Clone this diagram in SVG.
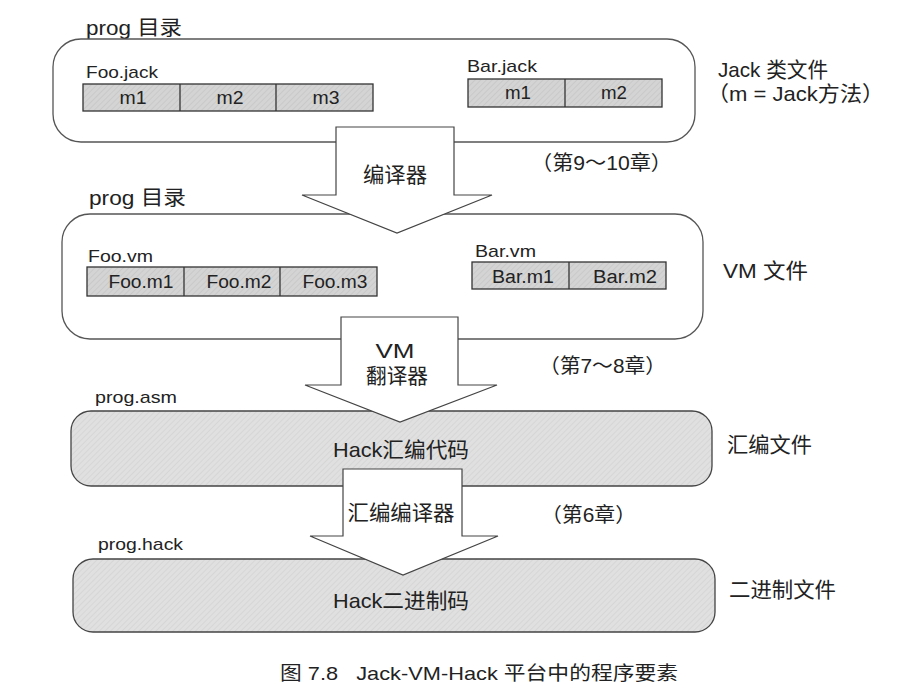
<svg xmlns="http://www.w3.org/2000/svg" width="905" height="698" viewBox="0 0 905 698">
  <defs>
    <pattern id="hatch" width="4" height="4" patternUnits="userSpaceOnUse" patternTransform="rotate(45)">
      <rect width="4" height="4" fill="#d4d4d4"/>
      <line x1="0" y1="0" x2="0" y2="4" stroke="#c2c2c2" stroke-width="1.2"/>
    </pattern>
    <pattern id="hatchLight" width="4" height="4" patternUnits="userSpaceOnUse" patternTransform="rotate(45)">
      <rect width="4" height="4" fill="#e0e0e0"/>
      <line x1="0" y1="0" x2="0" y2="4" stroke="#cfcfcf" stroke-width="1.2"/>
    </pattern>
  </defs>
  <style>
    text { font-family: "Liberation Sans", "Noto Sans CJK SC", sans-serif; fill: #222; }
    .dir { fill: #fff; stroke: #555; stroke-width: 1.3; }
    .bin { fill: url(#hatchLight); stroke: #444; stroke-width: 1.3; }
    .cell { fill: url(#hatch); stroke: #333; stroke-width: 1.3; }
    .div { stroke: #333; stroke-width: 1.3; }
    .arrow { fill: #fff; stroke: #444; stroke-width: 1.2; stroke-linejoin: miter; }
    .lbl { font-size: 20px; }
    .file { font-size: 17px; }
    .cellt { font-size: 18px; text-anchor: middle; }
    .mid { text-anchor: middle; font-size: 21px; }
    .side { font-size: 21px; }
    .chap { font-size: 20px; }
  </style>
  <rect width="905" height="698" fill="#fff"/>

  <!-- Jack source directory -->
  <g id="jack-dir">
    <text class="lbl" x="86" y="35" textLength="96" lengthAdjust="spacingAndGlyphs">prog 目录</text>
    <rect class="dir" x="53" y="39" width="642" height="103" rx="28"/>
    <text class="file" x="86" y="78" textLength="72" lengthAdjust="spacingAndGlyphs">Foo.jack</text>
    <rect class="cell" x="83" y="84" width="290" height="27"/>
    <line class="div" x1="180" y1="84" x2="180" y2="111"/>
    <line class="div" x1="276" y1="84" x2="276" y2="111"/>
    <text class="cellt" x="133" y="104" textLength="27" lengthAdjust="spacingAndGlyphs">m1</text>
    <text class="cellt" x="230" y="104" textLength="27" lengthAdjust="spacingAndGlyphs">m2</text>
    <text class="cellt" x="326" y="104" textLength="27" lengthAdjust="spacingAndGlyphs">m3</text>
    <text class="file" x="467" y="72" textLength="70" lengthAdjust="spacingAndGlyphs">Bar.jack</text>
    <rect class="cell" x="468" y="79" width="194" height="28"/>
    <line class="div" x1="565" y1="79" x2="565" y2="107"/>
    <text class="cellt" x="518" y="99" textLength="26" lengthAdjust="spacingAndGlyphs">m1</text>
    <text class="cellt" x="614" y="99" textLength="26" lengthAdjust="spacingAndGlyphs">m2</text>
  </g>
  <g id="jack-note">
    <text class="side" x="718" y="77" textLength="110" lengthAdjust="spacingAndGlyphs">Jack  类文件</text>
    <text class="side" x="707" y="101" textLength="177" lengthAdjust="spacingAndGlyphs">（m = Jack方法）</text>
  </g>

  <!-- VM directory -->
  <g id="vm-dir">
    <text class="lbl" x="89" y="205" textLength="97" lengthAdjust="spacingAndGlyphs">prog 目录</text>
    <rect class="dir" x="62" y="214" width="641" height="125" rx="28"/>
    <text class="file" x="88" y="262" textLength="65" lengthAdjust="spacingAndGlyphs">Foo.vm</text>
    <rect class="cell" x="87" y="267" width="290" height="29"/>
    <line class="div" x1="184" y1="267" x2="184" y2="296"/>
    <line class="div" x1="280" y1="267" x2="280" y2="296"/>
    <text class="cellt" x="141" y="288" textLength="65" lengthAdjust="spacingAndGlyphs">Foo.m1</text>
    <text class="cellt" x="239" y="288" textLength="65" lengthAdjust="spacingAndGlyphs">Foo.m2</text>
    <text class="cellt" x="335" y="288" textLength="65" lengthAdjust="spacingAndGlyphs">Foo.m3</text>
    <text class="file" x="475" y="257" textLength="61" lengthAdjust="spacingAndGlyphs">Bar.vm</text>
    <rect class="cell" x="472" y="262" width="194" height="27"/>
    <line class="div" x1="569" y1="262" x2="569" y2="289"/>
    <text class="cellt" x="523" y="283" textLength="62" lengthAdjust="spacingAndGlyphs">Bar.m1</text>
    <text class="cellt" x="625" y="283" textLength="64" lengthAdjust="spacingAndGlyphs">Bar.m2</text>
  </g>
  <g id="vm-note">
    <text class="side" x="723" y="278" textLength="85" lengthAdjust="spacingAndGlyphs">VM  文件</text>
  </g>

  <!-- Assembly file -->
  <g id="asm-file">
    <text class="file" x="95" y="403" textLength="82" lengthAdjust="spacingAndGlyphs">prog.asm</text>
    <rect class="bin" x="71" y="411" width="641" height="75" rx="20"/>
    <text class="mid" x="401" y="457" font-size="22" textLength="136" lengthAdjust="spacingAndGlyphs">Hack汇编代码</text>
  </g>
  <g id="asm-note">
    <text class="side" x="727" y="452" textLength="85" lengthAdjust="spacingAndGlyphs">汇编文件</text>
  </g>

  <!-- Binary file -->
  <g id="hack-file">
    <text class="file" x="98" y="550" textLength="85" lengthAdjust="spacingAndGlyphs">prog.hack</text>
    <rect class="bin" x="73" y="559" width="642" height="73" rx="20"/>
    <text class="mid" x="401" y="608" font-size="22" textLength="136" lengthAdjust="spacingAndGlyphs">Hack二进制码</text>
  </g>
  <g id="hack-note">
    <text class="side" x="729" y="597" textLength="107" lengthAdjust="spacingAndGlyphs">二进制文件</text>
  </g>

  <!-- Translation steps -->
  <g id="connectors">
    <g id="compiler">
      <polygon class="arrow" points="336,127 454,127 454,195 492,195 397,233 302,195 336,195"/>
      <text class="mid" x="395" y="182" textLength="64" lengthAdjust="spacingAndGlyphs">编译器</text>
    </g>
    <g id="vm-translator">
      <polygon class="arrow" points="341,317 458,317 458,385 497,385 400,422 305,385 341,385"/>
      <text class="mid" x="395" y="358" textLength="39" lengthAdjust="spacingAndGlyphs">VM</text>
      <text class="mid" x="397" y="383" textLength="62" lengthAdjust="spacingAndGlyphs">翻译器</text>
    </g>
    <g id="assembler">
      <polygon class="arrow" points="343,469 462,469 462,536 498,536 403,575 310,536 343,536"/>
      <text class="mid" x="401" y="520" textLength="107" lengthAdjust="spacingAndGlyphs">汇编编译器</text>
    </g>
  </g>

  <g id="chapters">
    <text class="chap" x="531" y="170" textLength="141" lengthAdjust="spacingAndGlyphs">（第9～10章）</text>
    <text class="chap" x="539" y="373" textLength="127" lengthAdjust="spacingAndGlyphs">（第7～8章）</text>
    <text class="chap" x="541" y="522" textLength="95" lengthAdjust="spacingAndGlyphs">（第6章）</text>
  </g>

  <text id="caption" x="280" y="680" font-size="19" textLength="398" lengthAdjust="spacingAndGlyphs" xml:space="preserve">图 7.8   Jack-VM-Hack 平台中的程序要素</text>
</svg>
